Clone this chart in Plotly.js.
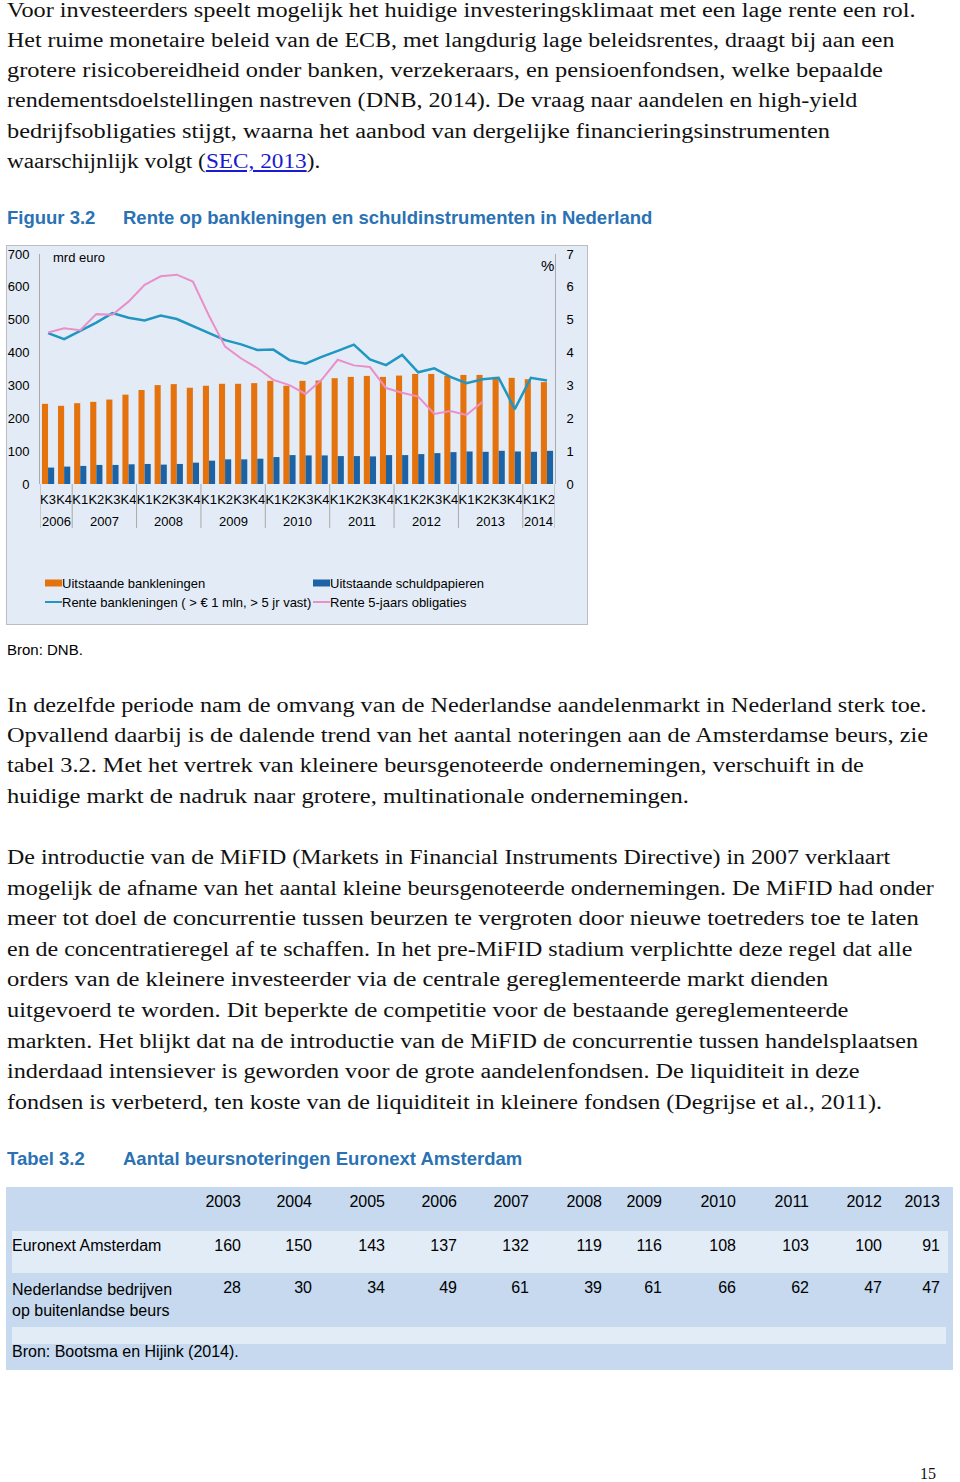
<!DOCTYPE html>
<html><head><meta charset="utf-8">
<script src="https://cdn.plot.ly/plotly-3.0.1.min.js"></script>
<style>
body{margin:0;width:960px;height:1482px;position:relative;background:#fff;overflow:hidden;font-family:"Liberation Sans",Arial,sans-serif;color:#000}
.ln{position:absolute;left:7px;white-space:nowrap;font-family:"Liberation Serif","Times New Roman",serif;font-size:20.5px;line-height:30px;height:30px;color:#111;transform-origin:0 50%}
.ln a{color:#1a1ad0;text-decoration:underline}
.hd{position:absolute;font-weight:bold;font-size:18.5px;line-height:20px;color:#2a72b4;white-space:nowrap}
.src{position:absolute;font-size:15px;line-height:18px;white-space:nowrap}
#chart{position:absolute;left:6px;top:245px;width:580px;height:378px;border:1px solid #bdbdbd;background:#e3ecf6}
#tblbg{position:absolute;left:6px;top:1187px;width:947px;height:183px;background:#c6d9ee}
#tbl{position:absolute;left:4px;top:1187px;width:944px;height:160px}
#mask{position:absolute;left:4px;top:1187px;width:8px;height:183px;background:linear-gradient(to right,#fff 2px,#c6d9ee 2px);z-index:5}
#empty{position:absolute;left:12px;top:1325px;width:934px;height:19px;background:#e2ecf7}
</style></head>
<body>
<div id="text"></div>
<div class="hd" style="left:7px;top:208px">Figuur 3.2</div>
<div class="hd" style="left:123px;top:208px">Rente op bankleningen en schuldinstrumenten in Nederland</div>
<div id="chart"></div>
<div class="src" style="left:7px;top:641px">Bron: DNB.</div>
<div class="hd" style="left:7px;top:1149px">Tabel 3.2</div>
<div class="hd" style="left:123px;top:1149px">Aantal beursnoteringen Euronext Amsterdam</div>
<div id="tblbg"></div>
<div id="empty"></div>
<div id="tbl"></div>
<div id="mask"></div>
<div class="src" style="left:12px;top:1343px;font-size:16px">Bron: Bootsma en Hijink (2014).</div>
<div class="ln" style="left:920px;top:1459px;font-size:16px">15</div>
<script>
// ---- body text: [html, centerY, rightX]
const textLines = [
 ['Voor investeerders speelt mogelijk het huidige investeringsklimaat met een lage rente een rol.',10,916],
 ['Het ruime monetaire beleid van de ECB, met langdurig lage beleidsrentes, draagt bij aan een',40,895],
 ['grotere risicobereidheid onder banken, verzekeraars, en pensioenfondsen, welke bepaalde',70,883],
 ['rendementsdoelstellingen nastreven (DNB, 2014). De vraag naar aandelen en high-yield',100,858],
 ['bedrijfsobligaties stijgt, waarna het aanbod van dergelijke financieringsinstrumenten',131,830],
 ['waarschijnlijk volgt (<a>SEC, 2013</a>).',161,320],
 ['In dezelfde periode nam de omvang van de Nederlandse aandelenmarkt in Nederland sterk toe.',705,927],
 ['Opvallend daarbij is de dalende trend van het aantal noteringen aan de Amsterdamse beurs, zie',735,928],
 ['tabel 3.2. Met het vertrek van kleinere beursgenoteerde ondernemingen, verschuift in de',765,864],
 ['huidige markt de nadruk naar grotere, multinationale ondernemingen.',796,689],
 ['De introductie van de MiFID (Markets in Financial Instruments Directive) in 2007 verklaart',857,890],
 ['mogelijk de afname van het aantal kleine beursgenoteerde ondernemingen. De MiFID had onder',888,934],
 ['meer tot doel de concurrentie tussen beurzen te vergroten door nieuwe toetreders toe te laten',918,919],
 ['en de concentratieregel af te schaffen. In het pre-MiFID stadium verplichtte deze regel dat alle',949,912],
 ['orders van de kleinere investeerder via de centrale gereglementeerde markt dienden',979,828],
 ['uitgevoerd te worden. Dit beperkte de competitie voor de bestaande gereglementeerde',1010,848],
 ['markten. Het blijkt dat na de introductie van de MiFID de concurrentie tussen handelsplaatsen',1041,918],
 ['inderdaad intensiever is geworden voor de grote aandelenfondsen. De liquiditeit in deze',1071,860],
 ['fondsen is verbeterd, ten koste van de liquiditeit in kleinere fondsen (Degrijse et al., 2011).',1102,882]
];
const tc = document.getElementById('text');
textLines.forEach(([h,cy,rx])=>{
  const d=document.createElement('div'); d.className='ln'; d.innerHTML=h;
  d.style.top=(cy-15)+'px'; tc.appendChild(d);
  const w=d.scrollWidth; const k=(rx-7)/w; d.style.transform='scaleX('+k.toFixed(4)+')';
});

// ---- chart data
const years = ['2006','2006','2007','2007','2007','2007','2008','2008','2008','2008','2009','2009','2009','2009','2010','2010','2010','2010','2011','2011','2011','2011','2012','2012','2012','2012','2013','2013','2013','2013','2014','2014'];
const quarters = ['K3','K4','K1','K2','K3','K4','K1','K2','K3','K4','K1','K2','K3','K4','K1','K2','K3','K4','K1','K2','K3','K4','K1','K2','K3','K4','K1','K2','K3','K4','K1','K2'];
const bankleningen = [244,238,246,250,257,272,286,301,304,293,299,305,305,307,314,299,314,315,322,326,329,326,330,335,335,329,332,332,326,323,319,310];
const schuldpapieren = [50,53,55,58,58,60,61,59,61,65,71,75,75,77,82,88,87,87,85,85,84,88,88,91,94,97,99,98,101,99,98,101];
const renteBankleningen = [4.59,4.41,4.66,4.91,5.20,5.06,4.98,5.13,5.02,4.81,4.60,4.38,4.25,4.08,4.09,3.77,3.66,3.87,4.05,4.24,3.79,3.62,3.93,3.40,3.52,3.26,3.07,3.19,3.23,2.28,3.23,3.15];
const rente5jaars = [4.61,4.74,4.68,5.17,5.15,5.55,6.06,6.32,6.37,6.16,5.12,4.18,3.82,3.53,3.17,3.01,2.74,3.17,3.78,3.61,3.56,2.92,2.78,2.66,2.13,2.22,2.10,2.50,null,null,null,null];
const seriesNames = ['Uitstaande bankleningen','Uitstaande schuldpapieren','Rente bankleningen ( > € 1 mln, > 5 jr vast)','Rente 5-jaars obligaties'];
const seriesColors = ['#e4730e','#1c63a6','#2196c2','#ea8fc8'];

const FONT = '"Liberation Sans", Arial, sans-serif';
const xi = quarters.map((q,i)=>i);   // category positions
const yearGroups = [];
years.forEach((y,i)=>{ const g=yearGroups[yearGroups.length-1]; if(g && g.y===y){g.end=i;} else yearGroups.push({y:y,start:i,end:i}); });
const AXW = 515, AXH = 230; // plot size px
const yearAnn = yearGroups.map(g=>({text:g.y, xref:'x', yref:'paper', x:(g.start+g.end)/2, y:-37/AXH, xanchor:'center', yanchor:'middle', showarrow:false, font:{size:13}}));
const divX = [-0.5].concat(yearGroups.map(g=>g.end+0.5));
const dividers = divX.map(x=>({type:'line', xref:'x', yref:'paper', x0:x, x1:x, y0:0, y1:-44/AXH, line:{color:'#a9a9a9', width:1}}));

// custom legend (swatch offsets in px relative to plot area's bottom-left corner)
const px = d => d/AXW, py = d => -d/AXH;
const legPos = [[5,99],[273,99],[5,118],[273,118]];
const legShapes = legPos.map((p,i)=> i<2
  ? {type:'rect', xref:'paper', yref:'paper', x0:px(p[0]), x1:px(p[0]+17), y0:py(p[1]-3.5), y1:py(p[1]+3.5), fillcolor:seriesColors[i], line:{width:0}}
  : {type:'line', xref:'paper', yref:'paper', x0:px(p[0]), x1:px(p[0]+17), y0:py(p[1]), y1:py(p[1]), line:{color:seriesColors[i], width:2}});
const legAnn = legPos.map((p,i)=>({text:seriesNames[i], xref:'paper', yref:'paper', x:px(p[0]+17), y:py(p[1]), xanchor:'left', yanchor:'middle', showarrow:false, font:{size:13}, xshift:-2}));

const traces = [
 {type:'bar', name:seriesNames[0], x:xi, y:bankleningen, marker:{color:seriesColors[0]}, yaxis:'y'},
 {type:'bar', name:seriesNames[1], x:xi, y:schuldpapieren, marker:{color:seriesColors[1]}, yaxis:'y'},
 {type:'scatter', mode:'lines', name:seriesNames[2], x:xi, y:renteBankleningen, line:{color:seriesColors[2], width:2.5}, yaxis:'y2'},
 {type:'scatter', mode:'lines', name:seriesNames[3], x:xi, y:rente5jaars, line:{color:seriesColors[3], width:2}, yaxis:'y2', connectgaps:false}
];
const layout = {
 width:580, height:378,
 margin:{l:33, r:32, t:8, b:140, pad:0},
 paper_bgcolor:'#e3ecf6', plot_bgcolor:'#e3ecf6',
 font:{family:FONT, size:13, color:'#000'},
 barmode:'group', bargap:0.24, bargroupgap:0,
 showlegend:false,
 xaxis:{range:[-0.5, quarters.length-0.5], tickmode:'array', tickvals:xi, ticktext:quarters, tickangle:0, showline:false, showgrid:false, zeroline:false, ticks:'', ticklabelstandoff:6, tickfont:{size:13, family:FONT}},
 yaxis:{range:[0,700], dtick:100, showgrid:false, zeroline:false, showline:true, linecolor:'#a9a9a9', linewidth:1, ticks:'', ticklabelstandoff:7, tickfont:{size:13}},
 yaxis2:{range:[0,7], dtick:1, overlaying:'y', side:'right', showgrid:false, zeroline:false, showline:true, linecolor:'#a9a9a9', linewidth:1, ticks:'', ticklabelstandoff:8, tickfont:{size:13}},
 shapes:dividers.concat(legShapes),
 annotations:[
  {text:'mrd euro', xref:'paper', yref:'paper', x:0.021, y:0.983, xanchor:'left', yanchor:'middle', showarrow:false, font:{size:13}},
  {text:'%', xref:'paper', yref:'paper', x:0.986, y:0.952, xanchor:'center', yanchor:'middle', showarrow:false, font:{size:15}}
 ].concat(yearAnn, legAnn)
};
Plotly.newPlot('chart', traces, layout, {displayModeBar:false, staticPlot:true});

// ---- table data
const tableYears = ['2003','2004','2005','2006','2007','2008','2009','2010','2011','2012','2013'];
const euronextAmsterdam = [160,150,143,137,132,119,116,108,103,100,91];
const nlBedrijvenBuitenland = [28,30,34,49,61,39,61,66,62,47,47];
const rowLabels = ['Euronext Amsterdam','Nederlandse bedrijven<br>op buitenlandse beurs'];

const MID='#c6d9ee', LIGHT='#e2ecf7';
const rowFill = [LIGHT, MID];
const cellCols = [rowLabels].concat(tableYears.map((y,i)=>[euronextAmsterdam[i], nlBedrijvenBuitenland[i]]));
const tbl = [{
 type:'table',
 columnwidth:[181,64,71,73,72,72,73,60,74,73,73,58],
 header:{values:[''].concat(tableYears), align:['left'].concat(tableYears.map(()=>'right')), height:44,
   fill:{color:MID}, line:{color:MID, width:0}, font:{family:FONT, size:16, color:'#000'}},
 cells:{values:cellCols, align:['left'].concat(tableYears.map(()=>'right')), height:42,
   fill:{color:cellCols.map(()=>rowFill)}, line:{color:MID, width:0}, font:{family:FONT, size:16, color:'#000'}}
}];
Plotly.newPlot('tbl', tbl, {width:944, height:160, margin:{l:0,r:0,t:0,b:0}, paper_bgcolor:'rgba(0,0,0,0)', font:{family:FONT}}, {displayModeBar:false, staticPlot:true});
</script>
</body></html>
